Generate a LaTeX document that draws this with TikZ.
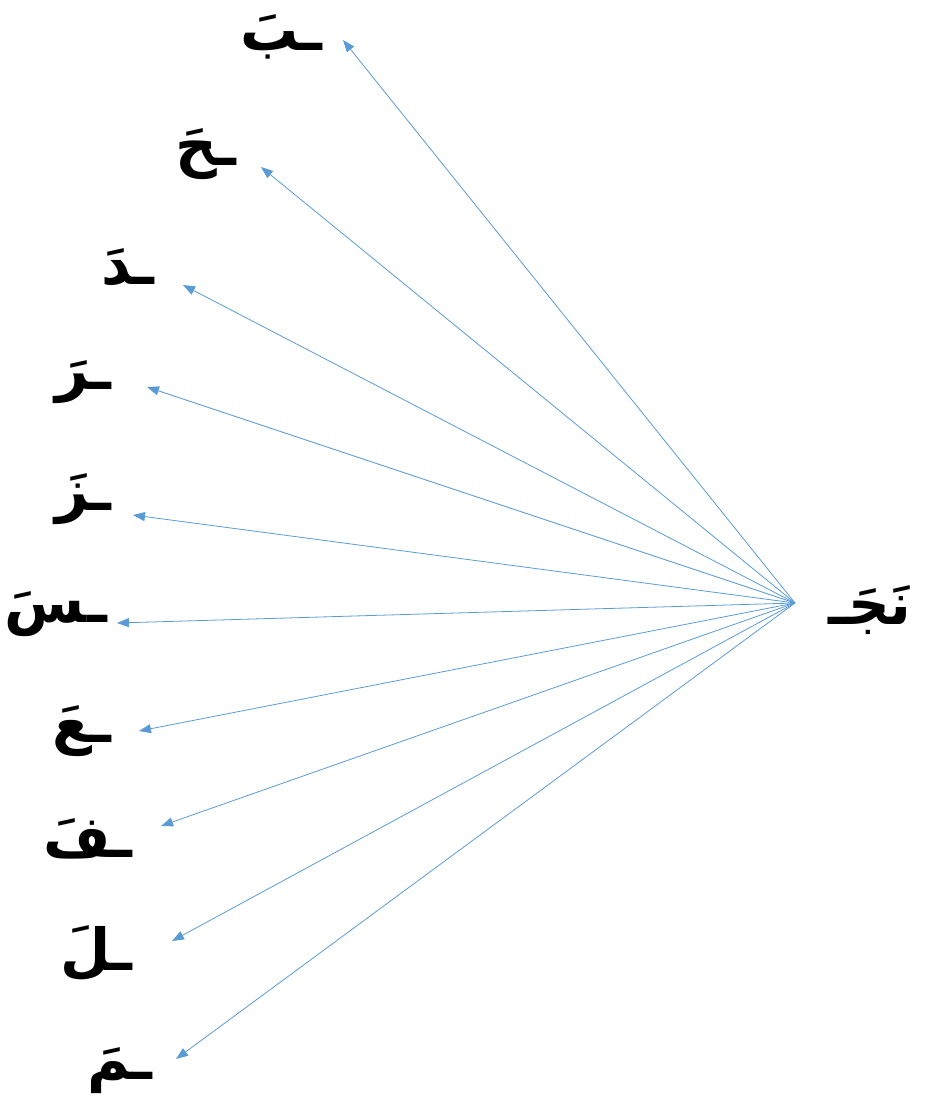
\documentclass[tikz,border=0pt]{standalone}
\usepackage{fontspec}
\newfontfamily\arabicfont[Script=Arabic]{DejaVu Sans}
\TeXXeTstate=1
\usetikzlibrary{arrows.meta}
\definecolor{arrblue}{RGB}{91,155,213}
\tikzset{
  lbl/.style={font=\arabicfont\bfseries\fontsize{58}{62}\selectfont,inner ysep=0pt},
  arr/.style={-{Triangle[length=12pt,width=9pt]},draw=arrblue,line width=0.8pt}
}
\begin{document}
\begin{tikzpicture}[x=1pt,y=-1pt]
  \useasboundingbox (0,0) rectangle (933,1108);

  % source
  \node[lbl,anchor=west,inner xsep=33pt] (nj) at (795,610) {\beginR نَجَـ\endR};

  % targets, one arrow each
  \foreach \n/\t/\x/\y/\o/\g in {
    b/ب/343/40/-3/21,
    h/ح/261/167/-13/24,
    d/د/183/285/-18/28,
    r/ر/147/387/-5/35,
    z/ز/133/515/-16/21,
    s/س/117/623/-9/10,
    ay/ع/139/731/0/27,
    f/ف/161/826/13/28,
    l/ل/172/941/12/40,
    m/م/176/1059/12/23
  }{
    \node[lbl,anchor=east,inner xsep=\g pt] (\n) at (\x,\y+\o) {\beginR ـ\t َ\endR};
    \draw[arr] ([yshift=7pt]nj.west) -- ([yshift=\o pt]\n.east);
  }
\end{tikzpicture}
\end{document}
